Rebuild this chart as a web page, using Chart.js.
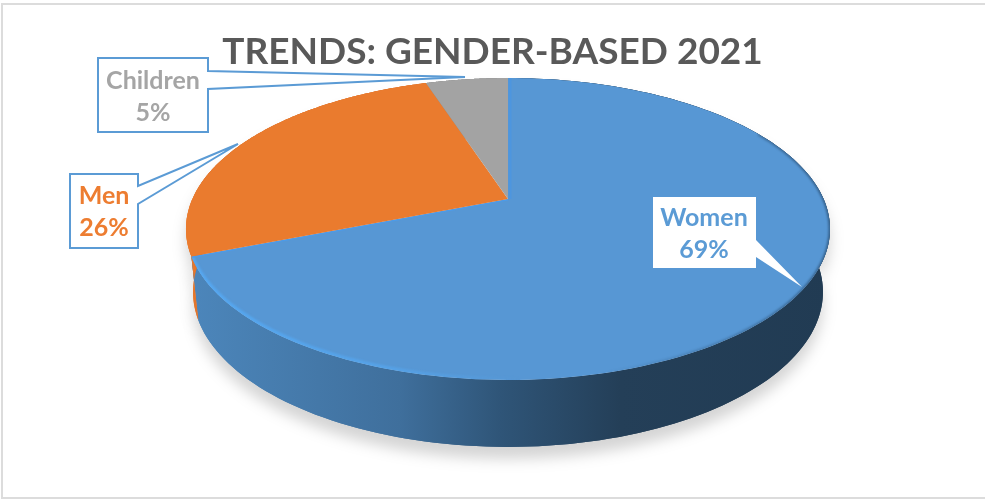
<!DOCTYPE html>
<html><head><meta charset="utf-8">
<style>html,body{margin:0;padding:0;background:#fff}#w{width:985px;height:500px}</style>
<script src="https://cdn.jsdelivr.net/npm/chart.js@4"></script>
</head><body><div id="w"><canvas id="c" width="985" height="500"></canvas></div>
<script>
const categories = ['Women', 'Men', 'Children'];
const shares = [69, 26, 5];
const sliceColors = ['#5797d4', '#ea7b2e', '#a3a3a3'];
const labelColors = ['#5b9bd5', '#ed7d31', '#a5a5a5'];
const chartTitle = 'TRENDS: GENDER-BASED 2021';

// Tilted-disc projection (style only)
const DX = 15.5, A = 315.6, B = 145, K = 0.1987, CY = 229, BOT_CY = 292, BOT_SX = 0.978, BOT_SY = 1.026;
const wallStops = [
  [[190,'#4c86bb'],[400,'#3f6f9c'],[500,'#2f5578'],[620,'#243f58'],[830,'#213b53']],
  [[186,'#ee7f30'],[200,'#dc7029']],
  [[0,'#8a8a8a'],[985,'#8a8a8a']]
];
const callouts = [
  {box:[653,197,756,268], wedge:[[756,240],[802,287],[756,257]], border:false, tx:704, ty:[218,250]},
  {box:[70,174,138,248], wedge:[[138,186],[238,144],[138,204]], border:true, tx:104, ty:[196,228]},
  {box:[98,58,208,132], wedge:[[208,71],[465,77],[208,89]], border:true, tx:153, ty:[81,113]}
];

function face(el, t){
  const c = Math.cos(t), s = Math.sin(t), w = 1 - K*s;
  return [el.x + DX + A*c/w, el.y + B*s/w];
}
function bottom(el, t){
  const p = face(el, t);
  return [el.x + DX + (p[0]-el.x-DX)*BOT_SX, BOT_CY + (p[1]-CY)*BOT_SY];
}
function samples(el){
  const out = [], n = 160;
  for(let i=0;i<=n;i++) out.push(el.startAngle + (el.endAngle-el.startAngle)*i/n);
  return out;
}
let pass = 'face';
Chart.ArcElement.prototype.draw = function(ctx){
  const ts = samples(this), idx = this.$context ? this.$context.dataIndex : 0;
  const ox = this.x + DX;
  ctx.save();
  if(pass === 'shadow' || pass === 'wall'){
    const g = ctx.createLinearGradient(186,0,830,0);
    wallStops[idx].forEach(s=>g.addColorStop(Math.min(1,Math.max(0,(s[0]-186)/644)), s[1]));
    ctx.beginPath();
    ts.forEach((t,i)=>{const p=face(this,t); i?ctx.lineTo(p[0],p[1]):ctx.moveTo(p[0],p[1]);});
    ts.slice().reverse().forEach(t=>{const p=bottom(this,t); ctx.lineTo(p[0],p[1]);});
    ctx.closePath();
    ctx.fillStyle = g;
    if(pass==='shadow'){
      ctx.shadowColor='rgba(0,0,0,0.17)'; ctx.shadowBlur=14; ctx.shadowOffsetY=12; ctx.shadowOffsetX=0;
    }
    ctx.fill();
  } else {
    ctx.beginPath();
    ctx.moveTo(ox,this.y);
    ts.forEach(t=>{const p=face(this,t); ctx.lineTo(p[0],p[1]);});
    ctx.closePath();
    ctx.fillStyle = this.options.backgroundColor;
    ctx.fill();
    if(idx===0){
      ctx.clip();
      ctx.filter='blur(1px)';
      const h = ctx.createLinearGradient(190,0,520,0);
      h.addColorStop(0,'rgba(85,170,245,0.9)');
      h.addColorStop(0.6,'rgba(85,170,245,0.6)');
      h.addColorStop(1,'rgba(85,170,245,0)');
      ctx.beginPath();
      ts.forEach((t,i)=>{const p=face(this,t); i?ctx.lineTo(p[0],p[1]-1):ctx.moveTo(p[0],p[1]-1);});
      ctx.strokeStyle=h; ctx.lineWidth=4; ctx.stroke();
      const d = ctx.createLinearGradient(600,0,830,0);
      d.addColorStop(0,'rgba(30,60,90,0)');
      d.addColorStop(1,'rgba(30,60,90,0.6)');
      ctx.beginPath();
      ts.filter(t=>Math.sin(t)>-0.5 && Math.cos(t)>0).forEach((t,i)=>{const p=face(this,t); i?ctx.lineTo(p[0],p[1]):ctx.moveTo(p[0],p[1]);});
      ctx.strokeStyle=d; ctx.lineWidth=3; ctx.stroke();
      ctx.filter='none';
      ctx.beginPath();
      let p=face(this,this.endAngle); ctx.moveTo(ox,this.y); ctx.lineTo(p[0],p[1]);
      ctx.strokeStyle='rgba(75,155,235,0.9)'; ctx.lineWidth=3; ctx.stroke();
      ctx.beginPath();
      p=face(this,this.startAngle); ctx.moveTo(ox+2,this.y); ctx.lineTo(p[0]+2,p[1]);
      ctx.strokeStyle='rgba(75,150,225,0.8)'; ctx.lineWidth=3; ctx.stroke();
    }
  }
  ctx.restore();
};

const tilt = {
  id:'tilt',
  beforeDraw(chart){
    const ctx = chart.ctx;
    ctx.save();
    ctx.fillStyle='#fff'; ctx.fillRect(0,0,985,500);
    ctx.strokeStyle='#dcdcdc'; ctx.lineWidth=2;
    ctx.strokeRect(2,4,990,494);
    ctx.restore();
  },
  beforeDatasetDraw(chart,args){
    pass='shadow'; args.meta.controller.draw();
    pass='wall'; args.meta.controller.draw();
    pass='face';
  },
  afterDatasetsDraw(chart){
    const ctx = chart.ctx;
    categories.forEach((name,i)=>{
      const c = callouts[i], b = c.box, w = c.wedge;
      ctx.save();
      ctx.fillStyle='#fff'; ctx.strokeStyle='#5b9bd5'; ctx.lineWidth=2; ctx.lineJoin='miter';
      ctx.beginPath();
      ctx.moveTo(b[0],b[1]);
      ctx.lineTo(b[2],b[1]); ctx.lineTo(...w[0]); ctx.lineTo(...w[1]); ctx.lineTo(...w[2]); ctx.lineTo(b[2],b[3]);
      ctx.lineTo(b[0],b[3]); ctx.closePath();
      ctx.fill();
      if(c.border) ctx.stroke();
      ctx.fillStyle=labelColors[i];
      ctx.font='bold 25px Lato';
      ctx.textAlign='center'; ctx.textBaseline='middle';
      ctx.fillText(name,c.tx,c.ty[0]);
      ctx.fillText(shares[i]+'%',c.tx,c.ty[1]);
      ctx.restore();
    });
  }
};

new Chart(document.getElementById('c'),{
  type:'pie',
  data:{labels:categories,datasets:[{data:shares,backgroundColor:sliceColors,borderWidth:0}]},
  options:{
    responsive:false,animation:false,
    layout:{padding:{bottom:177.6}},
    plugins:{
      legend:{display:false},tooltip:{enabled:false},
      title:{display:true,text:chartTitle,color:'#595959',
        font:{family:'Lato',weight:'bold',size:37,lineHeight:1.2},
        padding:{top:30,bottom:1.2}}
    }
  },
  plugins:[tilt]
});
</script></body></html>
